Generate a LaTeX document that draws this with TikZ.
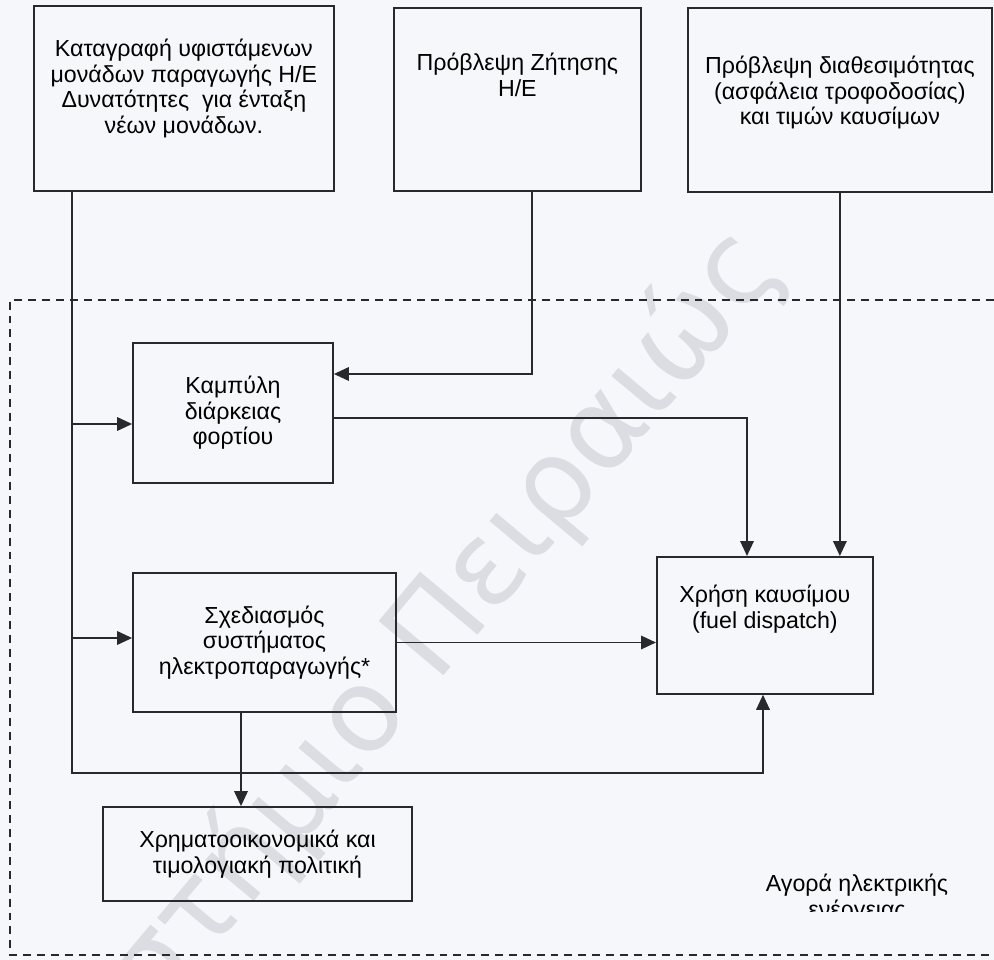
\documentclass[tikz,border=0pt]{standalone}
\usepackage{fontspec}
\setmainfont{Liberation Sans}
\newfontfamily\wmfont{DejaVu Sans}
\usetikzlibrary{arrows.meta,positioning}
\definecolor{paper}{RGB}{246,247,250}
\definecolor{ink}{RGB}{40,40,45}
\definecolor{wmgray}{RGB}{220,221,227}

\begin{document}
\begin{tikzpicture}[font=\fontsize{13.2}{14.6}\selectfont, line width=1pt,
  blk/.style={draw=ink, rectangle, align=center, inner sep=0pt},
  txt/.style={align=center, inner sep=0pt},
  arr/.style={draw=ink, -{Triangle[length=0.3cm,width=0.27cm]}}]
\fill[paper] (0,0) rectangle (19.88,-19.2);
\useasboundingbox (0,0) rectangle (19.88,-19.2);

\node[rotate=50, text=wmgray, font=\wmfont\fontsize{66}{70}\selectfont, anchor=base east] (wm) at (15.8,-5.25) {Πανεπιστήμιο Πειραιώς};

\node[blk, minimum width=6cm, minimum height=3.7cm, anchor=north west] (cat) at (0.66,-0.1) {};
\node[txt, below=0.66cm of cat.north] (cattxt) {Καταγραφή υφιστάμενων\\μονάδων παραγωγής Η/Ε\\Δυνατότητες\ \ για ένταξη\\νέων μονάδων.};
\node[blk, minimum width=4.94cm, minimum height=3.66cm, anchor=north west] (dem) at (7.86,-0.14) {};
\node[txt, below=0.9cm of dem.north] (demtxt) {Πρόβλεψη Ζήτησης\\Η/Ε};
\node[blk, minimum width=6.08cm, minimum height=3.68cm, anchor=north west] (avl) at (13.74,-0.14) {};
\node[txt, below=0.96cm of avl.north] (avltxt) {Πρόβλεψη διαθεσιμότητας\\(ασφάλεια τροφοδοσίας)\\και τιμών καυσίμων};

\draw[ink, dash pattern=on 4.5pt off 3.4pt] (19.88,-6.0) -- (0.2,-6.0) -- (0.2,-19.1) -- (19.88,-19.1);

\node[blk, minimum width=4cm, minimum height=2.8cm] (ldc) at (4.66,-8.26) {Καμπύλη\\διάρκειας\\φορτίου};
\node[blk, minimum width=5.26cm, minimum height=2.78cm] (plan) at (5.29,-12.85) {Σχεδιασμός\\συστήματος\\ηλεκτροπαραγωγής*};
\node[blk, minimum width=6.18cm, minimum height=1.88cm] (fin) at (5.15,-17.08) {Χρηματοοικονομικά και\\τιμολογιακή πολιτική};
\node[blk, minimum width=4.32cm, minimum height=2.74cm, anchor=north west] (use) at (13.12,-11.12) {};
\node[txt, below=0.56cm of use.north] (usetxt) {Χρήση καυσίμου\\(fuel dispatch)};
\begin{scope}
\clip (12,-17) rectangle (19.88,-18.22);
\node[txt] (mkt) at (17.14,-17.96) {Αγορά ηλεκτρικής\\ενέργειας};
\end{scope}

\coordinate (busL) at (1.44,-15.46);
\coordinate (busR) at (15.26,-15.46);
\draw[arr] (busL |- cat.south) -- (busL) -- (busR) -- (busR |- use.south);
\coordinate (inL) at (1.44,-8.48);
\draw[arr] (inL) -- (inL -| ldc.west);
\coordinate (inP) at (1.44,-12.76);
\draw[arr] (inP) -- (inP -| plan.west);
\coordinate (demK) at (10.64,-7.48);
\draw[arr] (demK |- dem.south) -- (demK) -- (demK -| ldc.east);
\coordinate (ldcK) at (14.94,-8.36);
\draw[arr] (ldcK -| ldc.east) -- (ldcK) -- (ldcK |- use.north);
\draw[arr] (avl.south) -- (avl.south |- use.north);
\draw[arr] (plan.east) -- (plan.east -| use.west);
\coordinate (finK) at (4.82,-15.46);
\draw[arr] (finK |- plan.south) -- (finK |- fin.north);
\end{tikzpicture}
\end{document}
